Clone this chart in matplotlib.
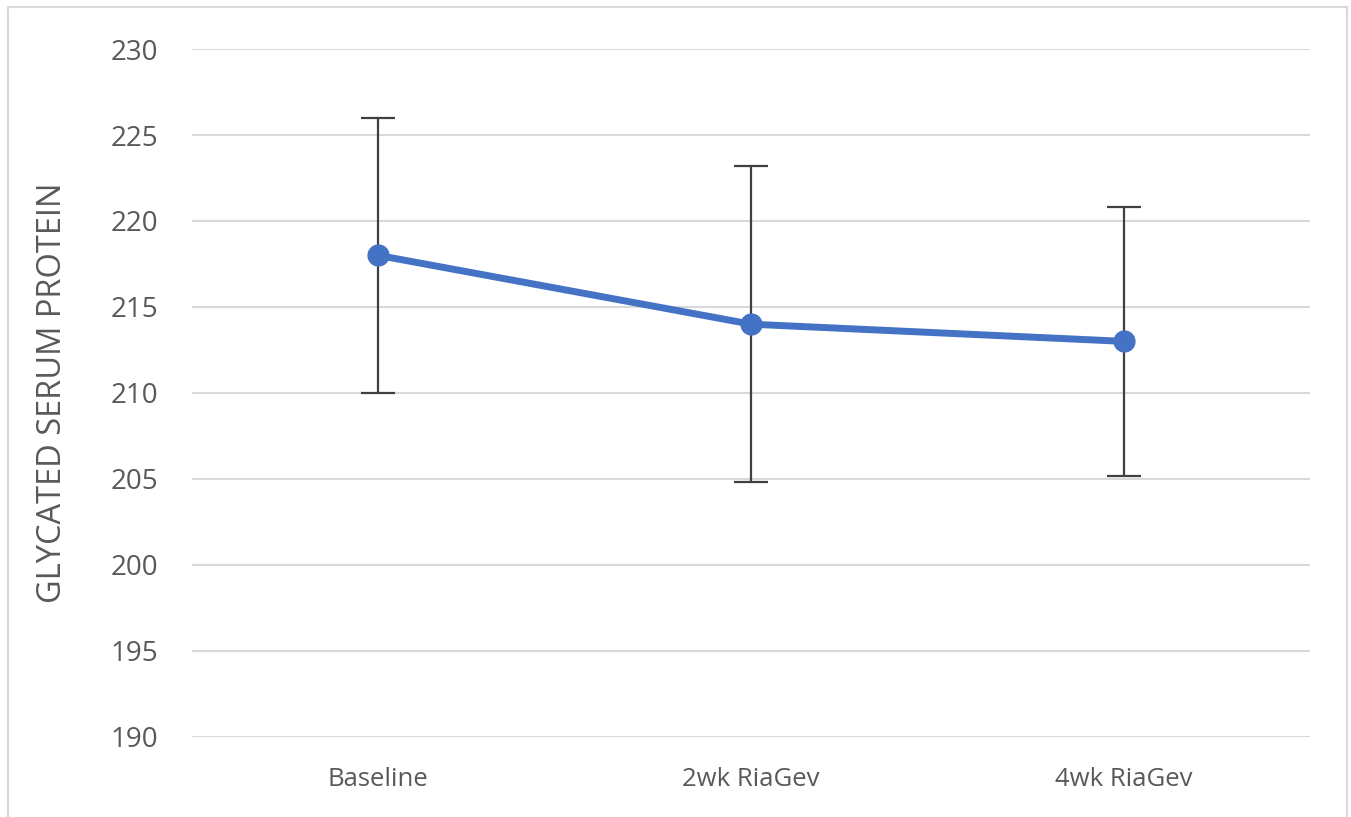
import matplotlib
matplotlib.use("Agg")
import matplotlib.pyplot as plt
from matplotlib.patches import Rectangle

categories = ["Baseline", "2wk RiaGev", "4wk RiaGev"]
means = [218.0, 214.0, 213.0]
err_low = [8.0, 9.2, 7.8]
err_high = [8.0, 9.2, 7.8]
yticks = [190, 195, 200, 205, 210, 215, 220, 225, 230]

plt.rcParams["font.family"] = ["Open Sans", "DejaVu Sans"]

fig = plt.figure(figsize=(13.51, 8.17), dpi=100)
ax = fig.add_axes([0.142, 0.098, 0.828, 0.842])

x = range(len(categories))
ax.errorbar(x, means, yerr=[err_low, err_high], fmt="none", ecolor="#404040",
            elinewidth=1.6, capsize=12, capthick=1.6, zorder=2)
ax.plot(x, means, color="#4472C4", lw=5, marker="o", ms=15, zorder=3)

ax.set_xlim(-0.5, 2.5)
ax.set_ylim(190, 230)
ax.set_yticks(yticks)
ax.set_xticks(list(x))
ax.set_xticklabels(categories)
ax.grid(axis="y", color="#d9d9d9", lw=1.5)
ax.set_axisbelow(True)
for s in ax.spines.values():
    s.set_visible(False)
ax.tick_params(length=0, colors="#595959")
ax.tick_params(axis="y", labelsize=20, pad=24)
ax.tick_params(axis="x", labelsize=18.5, pad=22)
ax.set_ylabel("GLYCATED SERUM PROTEIN", fontsize=23.5, color="#595959", labelpad=30)

# light frame around the chart
fig.patches.append(Rectangle((8 / 1351, -0.05), 1339 / 1351, 1.05 - 7 / 817,
                             transform=fig.transFigure, fill=False,
                             edgecolor="#d9d9d9", lw=1.5))

fig.savefig("out.png", dpi=100)
